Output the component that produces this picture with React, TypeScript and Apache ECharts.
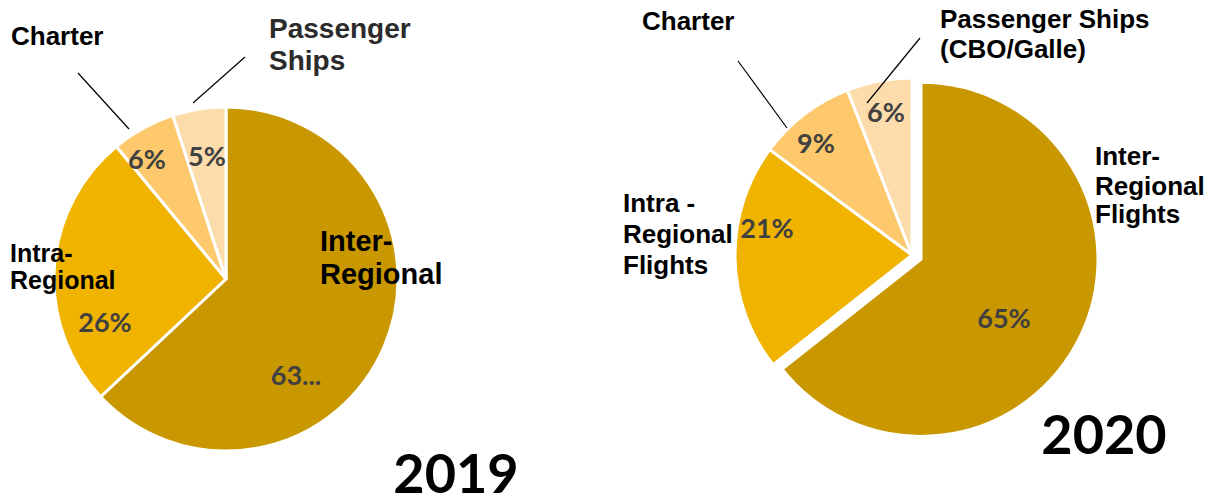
import React, { useEffect, useRef } from "react";
import * as echarts from "echarts";

// ---- data ----
const categories2019 = ["Inter-Regional", "Intra-Regional", "Charter", "Passenger Ships"];
const values2019 = [63, 26, 6, 5];
const pctLabels2019 = ["63...", "26%", "6%", "5%"];

const categories2020 = [
  "Inter-Regional Flights",
  "Intra - Regional Flights",
  "Charter",
  "Passenger Ships (CBO/Galle)",
];
const values2020 = [65, 21, 9, 6];
const pctLabels2020 = ["65%", "21%", "9%", "6%"];

const years = ["2019", "2020"];

// ---- styling / layout ----
const sliceColors = ["#C99700", "#EFB300", "#FDC96C", "#FDDCAC"];
const pctPos2019 = [
  [296, 374],
  [105, 321],
  [147, 158],
  [207, 155],
];
const pctPos2020 = [
  [1004, 317],
  [767, 227],
  [816, 142],
  [886, 111],
];

const NAME_FONT = '"Liberation Sans", Arial, sans-serif';
const NUM_FONT = 'Lato, "Open Sans", sans-serif';

function nameText(lines: string[], x: number, ys: number[], size: number, color = "#000") {
  return lines.map((t, i) => ({
    type: "text",
    x,
    y: ys[i],
    z: 100,
    silent: true,
    style: {
      text: t,
      fill: color,
      font: `bold ${size}px ${NAME_FONT}`,
      textAlign: "left",
      textVerticalAlign: "middle",
      verticalAlign: "middle",
    },
  }));
}

function pctText(text: string, cx: number, cy: number) {
  return {
    type: "text",
    x: cx,
    y: cy,
    z: 100,
    silent: true,
    style: {
      text,
      fill: "#404040",
      font: `bold 27px ${NUM_FONT}`,
      textAlign: "center",
      textVerticalAlign: "middle",
      verticalAlign: "middle",
    },
  };
}

function leader(x1: number, y1: number, x2: number, y2: number) {
  return {
    type: "line",
    z: 100,
    silent: true,
    shape: { x1, y1, x2, y2 },
    style: { stroke: "#000", lineWidth: 1.2 },
  };
}

function yearText(text: string, cx: number, cy: number) {
  return {
    type: "text",
    x: cx,
    y: cy,
    z: 100,
    silent: true,
    style: {
      text,
      fill: "#000",
      font: `bold 54px ${NUM_FONT}`,
      lineHeight: 44,
      textAlign: "center",
      textVerticalAlign: "middle",
      verticalAlign: "middle",
    },
  };
}

export default function App() {
  const ref = useRef<HTMLDivElement>(null);

  useEffect(() => {
    document.body.style.margin = "0";
    if (!ref.current) return;
    const chart = echarts.init(ref.current, undefined, { renderer: "svg" });

    const data2019 = categories2019.map((name, i) => ({
      name,
      value: values2019[i],
      itemStyle: { color: sliceColors[i] },
    }));
    const data2020 = categories2020.map((name, i) => ({
      name,
      value: values2020[i],
      selected: i === 0,
      itemStyle: { color: sliceColors[i] },
    }));

    const option: any = {
      animation: false,
      tooltip: { show: false },
      series: [
        {
          type: "pie",
          center: [226, 279],
          radius: [0, 172],
          startAngle: 90,
          clockwise: true,
          silent: true,
          itemStyle: { borderColor: "#fff", borderWidth: 3 },
          label: { show: false },
          labelLine: { show: false },
          emphasis: { disabled: true },
          data: data2019,
        },
        {
          type: "pie",
          center: [912, 255],
          radius: [0, 177],
          startAngle: 90,
          clockwise: true,
          silent: true,
          selectedMode: "single",
          selectedOffset: 10,
          itemStyle: { borderColor: "#fff", borderWidth: 3 },
          select: { itemStyle: { borderColor: "#fff", borderWidth: 3 } },
          label: { show: false },
          labelLine: { show: false },
          emphasis: { disabled: true },
          data: data2020,
        },
      ],
      graphic: [
        // percentages
        ...pctLabels2019.map((t, i) => pctText(t, pctPos2019[i][0], pctPos2019[i][1])),
        ...pctLabels2020.map((t, i) => pctText(t, pctPos2020[i][0], pctPos2020[i][1])),
        // 2019 names
        ...nameText(["Charter"], 11, [36], 26),
        ...nameText(["Passenger", "Ships"], 269, [28, 60], 28, "#2b2b2b"),
        ...nameText(["Intra-", "Regional"], 10, [253, 280], 25),
        ...nameText(["Inter-", "Regional"], 320, [241, 274], 29),
        leader(78, 73, 129, 129),
        leader(245, 57, 193, 103),
        // 2020 names
        ...nameText(["Charter"], 642, [21], 26),
        ...nameText(["Passenger Ships", "(CBO/Galle)"], 940, [19, 49], 26),
        ...nameText(["Inter-", "Regional", "Flights"], 1095, [156, 186, 214], 26),
        ...nameText(["Intra -", "Regional", "Flights"], 623, [203, 234, 265], 26),
        leader(738, 61, 787, 128),
        leader(920, 38, 867, 103),
        // years
        yearText(years[0], 456, 472),
        yearText(years[1], 1104, 433),
      ],
    };

    chart.setOption(option);
    return () => chart.dispose();
  }, []);

  return <div ref={ref} style={{ width: 1215, height: 502 }} />;
}
